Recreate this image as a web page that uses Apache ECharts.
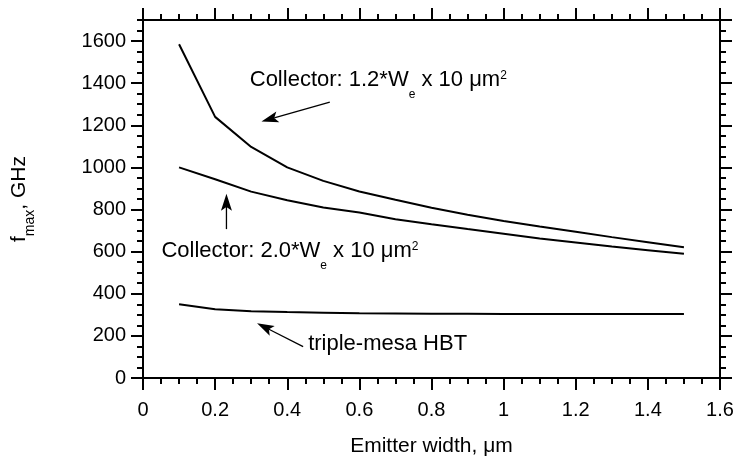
<!DOCTYPE html>
<html>
<head>
<meta charset="utf-8">
<script src="https://cdn.jsdelivr.net/npm/echarts@6/dist/echarts.min.js"></script>
<style>
html,body{margin:0;padding:0;background:#fff;}
#chart{width:736px;height:459px;}
</style>
</head>
<body>
<div id="chart"></div>
<script>
// ---- data ----
var emitterWidth = [0.1,0.2,0.3,0.4,0.5,0.6,0.7,0.8,0.9,1.0,1.1,1.2,1.3,1.4,1.5];
var fmaxCollector12 = [1585,1240,1097,1000,936,886,846,808,775,746,719,695,669,645,621];
var fmaxCollector20 = [1000,944,885,844,810,786,754,730,707,685,662,643,624,607,590];
var fmaxTripleMesa = [350,326,317,313,310,307,306,305,305,304,304,304,304,304,304];

var xTickStep = 0.2, xMinorStep = 0.05, xMax = 1.6;
var yTickStep = 200, yMinorStep = 50, yMax = 1700;
var yTickLabels = ['0','200','400','600','800','1000','1200','1400','1600'];

// annotations: text anchor (left, baseline) in data units
var annotTexts = ['{a|Collector: 1.2*W}{s|e}{a| x 10 \u03bcm}{p|2}',
                  '{a|Collector: 2.0*W}{s|e}{a| x 10 \u03bcm}{p|2}',
                  '{a|triple-mesa HBT}'];
var annotAnchors = [[0.296,1377],[0.051,566],[0.458,126]];
// arrows: [tail, tip] in data units
var arrowTails = [[0.518,1310],[0.2314,707],[0.444,149]];
var arrowTips  = [[0.3285,1218],[0.2314,875],[0.3163,260]];

var FONT = '"Liberation Sans", Arial, Helvetica, sans-serif';
function pairs(xs, ys){ var r=[]; for(var i=0;i<xs.length;i++) r.push([xs[i], ys[i]]); return r; }

function mkX(pos, major, labels){
  return {
    type:'value', min:0, max:xMax, position:pos,
    interval: major ? xTickStep : xMinorStep,
    axisLine:{show:major, onZero:false, lineStyle:{color:'#000',width:2}},
    axisTick:{show:true, inside:false, length: major?12:6, lineStyle:{color:'#000',width:2}},
    axisLabel:{show:labels, color:'#000', fontSize:20, fontFamily:FONT, margin:22},
    splitLine:{show:false},
    name: labels ? 'Emitter width, \u03bcm' : '',
    nameLocation:'middle', nameGap:58,
    nameTextStyle:{color:'#000', fontSize:21, fontFamily:FONT}
  };
}
function mkY(pos, major, labels){
  return {
    type:'value', min:0, max:yMax, position:pos,
    interval: major ? yTickStep : yMinorStep,
    axisLine:{show:major, onZero:false, lineStyle:{color:'#000',width:2}},
    axisTick:{show:true, inside:false, length: major?12:6, lineStyle:{color:'#000',width:2}},
    axisLabel:{show:labels, showMaxLabel:false, color:'#000', fontSize:20, fontFamily:FONT, margin:17,
               formatter:function(v){ var s=String(v); return yTickLabels.indexOf(s) >= 0 ? s : ''; }},
    splitLine:{show:false},
    name: labels ? '{a|f}{s|max}{a|, GHz}' : '',
    nameLocation:'middle', nameRotate:90, nameGap:106,
    nameTextStyle:{color:'#000', fontFamily:FONT,
      rich:{
        a:{fontSize:21, lineHeight:36, fontFamily:FONT, color:'#000'},
        s:{fontSize:14, lineHeight:14, verticalAlign:'bottom', fontFamily:FONT, color:'#000'}
      }}
  };
}

var chart = echarts.init(document.getElementById('chart'), null, {renderer:'canvas'});
var lineStyle = {color:'#000', width:2};
chart.setOption({
  animation:false,
  backgroundColor:'#fff',
  grid:{left:143, right:16, top:20, bottom:81, containLabel:false, outerBoundsMode:'none'},
  xAxis:[mkX('bottom',true,true), mkX('bottom',false,false), mkX('top',true,false), mkX('top',false,false)],
  yAxis:[mkY('left',true,true), mkY('left',false,false), mkY('right',true,false), mkY('right',false,false)],
  series:[
    {name:'Collector 1.2*We', type:'line', data:pairs(emitterWidth,fmaxCollector12), showSymbol:false, symbol:'none', lineStyle:lineStyle, xAxisIndex:0, yAxisIndex:0},
    {name:'Collector 2.0*We', type:'line', data:pairs(emitterWidth,fmaxCollector20), showSymbol:false, symbol:'none', lineStyle:lineStyle, xAxisIndex:0, yAxisIndex:0},
    {name:'triple-mesa HBT', type:'line', data:pairs(emitterWidth,fmaxTripleMesa), showSymbol:false, symbol:'none', lineStyle:lineStyle, xAxisIndex:0, yAxisIndex:0}
  ]
});

// annotations positioned through the chart's own scales
var graphics = [];
var rich = {
  a:{fontSize:22, lineHeight:40, fontFamily:FONT, color:'#000'},
  s:{fontSize:12, lineHeight:14, verticalAlign:'bottom', fontFamily:FONT, color:'#000'},
  p:{fontSize:12, lineHeight:12, verticalAlign:'top', padding:[9,0,0,0], fontFamily:FONT, color:'#000'}
};
var BASE_OFF = 27.6;
for (var i=0;i<annotTexts.length;i++){
  var p = chart.convertToPixel({xAxisIndex:0, yAxisIndex:0}, annotAnchors[i]);
  graphics.push({type:'text', x:p[0], y:p[1]-BASE_OFF, silent:true,
    style:{text:annotTexts[i], rich:rich, fill:'#000', font:'22px '+FONT, align:'left', verticalAlign:'top'}});
}
var L=17, W=11;
for (var j=0;j<arrowTails.length;j++){
  var t = chart.convertToPixel({xAxisIndex:0, yAxisIndex:0}, arrowTails[j]);
  var h = chart.convertToPixel({xAxisIndex:0, yAxisIndex:0}, arrowTips[j]);
  var dx=h[0]-t[0], dy=h[1]-t[1], len=Math.sqrt(dx*dx+dy*dy);
  var ux=dx/len, uy=dy/len, nx=-uy, ny=ux;
  var bx=h[0]-L*ux, by=h[1]-L*uy;
  var notch=[h[0]-0.78*L*ux, h[1]-0.78*L*uy];
  graphics.push({type:'line', silent:true, shape:{x1:t[0],y1:t[1],x2:notch[0],y2:notch[1]},
    style:{stroke:'#000', lineWidth:1.3}});
  graphics.push({type:'polygon', silent:true, shape:{points:[h,[bx+nx*W/2,by+ny*W/2],notch,[bx-nx*W/2,by-ny*W/2]]},
    style:{fill:'#000'}});
}
chart.setOption({graphic:graphics});
</script>
</body>
</html>
